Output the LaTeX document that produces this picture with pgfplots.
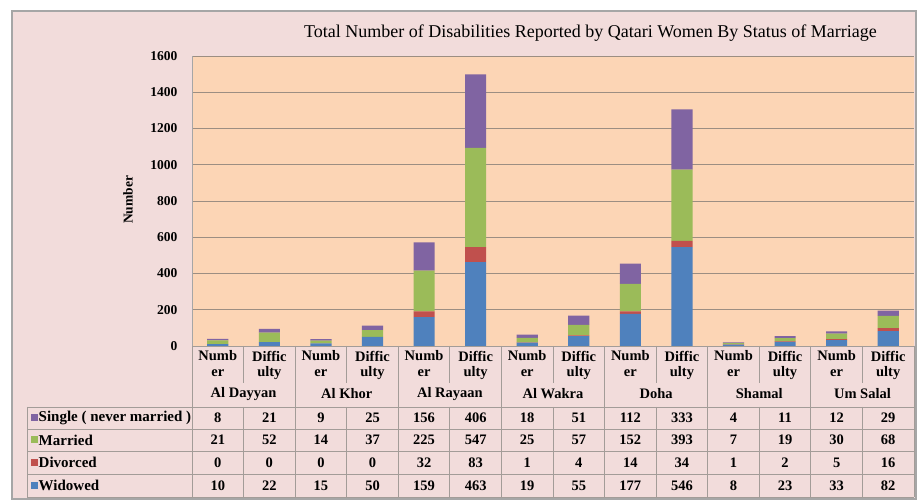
\documentclass[border=0pt]{standalone}
\usepackage{pgfplots}
\pgfplotsset{compat=1.18}
\usepackage{pgfplotstable}
\usepackage{fontspec}
\setmainfont{Liberation Serif}
\definecolor{pinkbg}{HTML}{F2DCDB}
\definecolor{tanbg}{HTML}{FCD5B5}
\definecolor{gridc}{HTML}{9C8E82}
\definecolor{framec}{HTML}{A6A6A6}
\definecolor{linec}{HTML}{A39C98}
\definecolor{cwid}{HTML}{4F81BD}
\definecolor{cdiv}{HTML}{C0504D}
\definecolor{cmar}{HTML}{9BBB59}
\definecolor{csin}{HTML}{8064A2}

\pgfplotstableread{
x wid div mar sin
0 10 0 21 8
1 22 0 52 21
2 15 0 14 9
3 50 0 37 25
4 159 32 225 156
5 463 83 547 406
6 19 1 25 18
7 55 4 57 51
8 177 14 152 112
9 546 34 393 333
10 8 1 7 4
11 23 2 19 11
12 33 5 30 12
13 82 16 68 29
}\data

\newcommand{\tfont}{\fontsize{14.5}{15}\selectfont\bfseries}

\begin{document}
\begin{tikzpicture}[x=1pt,y=1pt]
\fill[white] (0,0) rectangle (917,500);
\fill[pinkbg, draw=framec, line width=1.2pt] (12,1) rectangle (916,489);

\begin{axis}[
  at={(192pt,154pt)}, anchor=south west,
  scale only axis, width=722pt, height=290pt,
  ybar stacked, bar width=0.41,
  xmin=-0.5, xmax=13.5, ymin=0, ymax=1600,
  ytick={0,200,...,1600}, xtick=\empty,
  axis background/.style={fill=tanbg},
  axis x line=bottom, axis y line=left,
  axis line style={draw=framec, -},
  major tick length=0pt,
  ymajorgrids, grid style={gridc, line width=0.9pt},
  yticklabel style={font=\fontsize{13.5}{15}\selectfont\bfseries, xshift=-11pt},
  /pgf/number format/assume math mode=true,
  /pgf/number format/1000 sep={},
  title={Total Number of Disabilities Reported by Qatari Women By Status of Marriage},
  title style={font=\fontsize{18}{20}\selectfont, at={(0.552,1)}, anchor=south, yshift=5pt},
]
\addplot[fill=cwid, draw=none] table[x=x, y=wid] {\data};
\addplot[fill=cdiv, draw=none] table[x=x, y=div] {\data};
\addplot[fill=cmar, draw=none] table[x=x, y=mar] {\data};
\addplot[fill=csin, draw=none] table[x=x, y=sin] {\data};
\end{axis}

\node[rotate=90, font=\fontsize{13.5}{15}\selectfont\bfseries, inner sep=0pt] at (128,300) {Number};

% data table
\def\cw{51.571}
\begin{scope}[draw=linec, line width=0.9pt]
  \draw (192,154) -- (914,154);
  \draw (914,154) -- (914,3);
  \foreach \k in {0,...,7} \draw ({192+2*\k*\cw},154) -- ({192+2*\k*\cw},3);
  \foreach \k in {0,...,6} \draw ({192+(2*\k+1)*\cw},154) -- ({192+(2*\k+1)*\cw},117);
  \foreach \k in {0,...,13} \draw ({192+\k*\cw},93) -- ({192+\k*\cw},3);
  \draw (27,93) -- (27,3);
  \foreach \yy in {93,71,49,26,3} \draw (27,\yy) -- (914,\yy);
\end{scope}

\foreach \k/\name in {0/Al Dayyan,1/Al Khor,2/Al Rayaan,3/Al Wakra,4/Doha,5/Shamal,6/Um Salal}{
  \node[font=\tfont, inner sep=0pt] at ({192+(2*\k+0.5)*\cw},144) {Numb};
  \node[font=\tfont, inner sep=0pt] at ({192+(2*\k+0.5)*\cw},127) {er};
  \node[font=\tfont, inner sep=0pt] at ({192+(2*\k+1.5)*\cw},144) {Diffic};
  \node[font=\tfont, inner sep=0pt] at ({192+(2*\k+1.5)*\cw},127) {ulty};
  \node[font=\tfont, inner sep=0pt] at ({192+(2*\k+1)*\cw},106) {\name};
}

\foreach \col/\yy/\cc/\lab in {sin/82/csin/{Single ( never married )},mar/60/cmar/Married,div/37.5/cdiv/Divorced,wid/14.5/cwid/Widowed}{
  \fill[\cc] (31,\yy-3.5) rectangle (38,\yy+3.5);
  \node[font=\fontsize{15}{16}\selectfont\bfseries, inner sep=0pt, anchor=west] at (38.5,\yy) {\lab};
  \foreach \i in {0,...,13}{
    \pgfplotstablegetelem{\i}{\col}\of\data
    \node[font=\tfont, inner sep=0pt] at ({192+(\i+0.5)*\cw},\yy) {\pgfplotsretval};
  }
}
\end{tikzpicture}
\end{document}
